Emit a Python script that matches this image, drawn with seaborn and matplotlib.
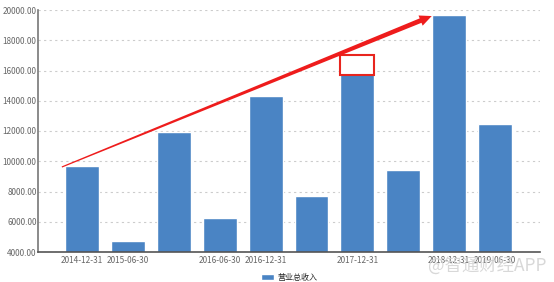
import matplotlib
matplotlib.use("Agg")
import matplotlib.pyplot as plt
import seaborn as sns
import pandas as pd
import numpy as np
from matplotlib.patches import Rectangle, Polygon

dates = ["2014-12-31", "2015-06-30", "2015-12-31", "2016-06-30", "2016-12-31",
         "2017-06-30", "2017-12-31", "2018-06-30", "2018-12-31", "2019-06-30"]
shown_labels = ["2014-12-31", "2015-06-30", "", "2016-06-30", "2016-12-31",
                "", "2017-12-31", "", "2018-12-31", "2019-06-30"]
revenue = [9690, 4720, 11920, 6250, 14300, 7700, 17000, 9450, 19700, 12450]
series_name = "营业总收入"

sns.set_theme(style="white")
plt.rcParams['font.family'] = ['Noto Sans CJK SC', 'DejaVu Sans']

df = pd.DataFrame({"date": dates, "value": revenue})

fig = plt.figure(figsize=(5.54, 2.82), dpi=100)
ax = fig.add_axes([38/554, 1-252/282, (540-38)/554, (252-10)/282])

sns.barplot(data=df, x="date", y="value", color="#4A84C4", width=0.74,
            saturation=1, ax=ax, label=series_name, zorder=2)

ax.set_ylim(4000, 20000)
ax.set_xlim(-0.96, 9.98)
ax.set_yticks(np.arange(4000, 20001, 2000))
ax.set_yticklabels([f"{v:.2f}" for v in np.arange(4000, 20001, 2000)])
ax.set_xticks(range(len(dates)))
ax.set_xticklabels(shown_labels)
ax.set_xlabel("")
ax.set_ylabel("")
ax.tick_params(axis="both", labelsize=5.9, colors="#666666", length=0, pad=1)
ax.tick_params(axis="x", pad=3)
ax.yaxis.grid(True, linestyle=(0, (2, 3)), color="#cccccc", linewidth=0.8, zorder=0)
ax.set_axisbelow(True)
for s in ["top", "right"]:
    ax.spines[s].set_visible(False)
ax.spines["left"].set_color("#777777")
ax.spines["bottom"].set_color("#555555")
ax.spines["left"].set_linewidth(1.2)
ax.spines["bottom"].set_linewidth(1.2)

# red annotation box over 2017-12-31 bar
ax.add_patch(Rectangle((6 - 0.37, 15700), 0.74, 1300, facecolor="white",
                       edgecolor="#E8251E", linewidth=1.5, zorder=3))

# tapered red arrow
x0, y0 = -0.44, 9620
x1, y1 = 7.62, 19600
p0 = ax.transData.transform((x0, y0))
p1 = ax.transData.transform((x1, y1))
d = p1 - p0
L = np.hypot(*d)
u = d / L
n = np.array([-u[1], u[0]])
w0, w1 = 0.6, 2.4
head_len, head_w = 12, 5.5
base = p1 - u * head_len
pts = [p0 + n * w0, base + n * w1, base + n * head_w, p1,
       base - n * head_w, base - n * w1, p0 - n * w0]
inv = ax.transData.inverted()
pts_data = inv.transform(np.array(pts))
ax.add_patch(Polygon(pts_data, closed=True, facecolor="#EE1C1C",
                     edgecolor="none", zorder=4))

leg = ax.legend(loc="upper center", bbox_to_anchor=(0.5, -0.055), frameon=False,
                fontsize=5.8, handlelength=1.6, handleheight=0.7, handletextpad=0.4)

fig.text(0.987, 0.025, "@智通财经APP", ha="right", va="bottom", fontsize=12.5,
         color="#d4d4d4", alpha=0.9, zorder=10)

fig.savefig("out.png", dpi=100)
